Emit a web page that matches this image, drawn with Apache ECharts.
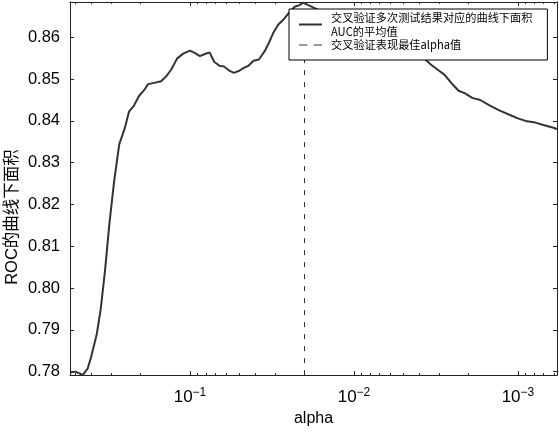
<!DOCTYPE html>
<html><head><meta charset="utf-8">
<script src="https://cdn.jsdelivr.net/npm/echarts@6/dist/echarts.min.js"></script>
<style>html,body{margin:0;padding:0;background:#fff}#c{width:559px;height:432px}</style>
</head><body><div id="c"></div>
<script>
const alphas = [0.539, 0.5, 0.45, 0.42, 0.4, 0.37, 0.35, 0.33, 0.31, 0.29, 0.27, 0.25, 0.235, 0.22, 0.205, 0.19, 0.18, 0.165, 0.15, 0.14, 0.13, 0.12, 0.11, 0.1, 0.093, 0.087, 0.081, 0.076, 0.071, 0.066, 0.062, 0.058, 0.054, 0.05, 0.047, 0.044, 0.041, 0.038, 0.035, 0.033, 0.031, 0.029, 0.027, 0.025, 0.023, 0.0215, 0.0204, 0.019, 0.017, 0.015, 0.013, 0.011, 0.0095, 0.008, 0.0068, 0.0058, 0.005, 0.0043, 0.0037, 0.0034, 0.0031, 0.0028, 0.0025, 0.0023, 0.0021, 0.0019, 0.0017, 0.0015, 0.0013, 0.0011, 0.001, 0.0009, 0.0008, 0.0007, 0.0006, 0.00058];
const meanAuc = [0.7798, 0.7800, 0.7792, 0.7808, 0.7836, 0.789, 0.795, 0.804, 0.8154, 0.8256, 0.8344, 0.8382, 0.8423, 0.8436, 0.8459, 0.8474, 0.8488, 0.8491, 0.8495, 0.8506, 0.8523, 0.8549, 0.8561, 0.8568, 0.8562, 0.8555, 0.8560, 0.8564, 0.8541, 0.8532, 0.8530, 0.8521, 0.8515, 0.8520, 0.8527, 0.8532, 0.8544, 0.8547, 0.8567, 0.8587, 0.8611, 0.8630, 0.8642, 0.8658, 0.8673, 0.8677, 0.8683, 0.8677, 0.8668, 0.8658, 0.8649, 0.8637, 0.8625, 0.8616, 0.8604, 0.8592, 0.8580, 0.8566, 0.8548, 0.8535, 0.8523, 0.8510, 0.8487, 0.8472, 0.8466, 0.8455, 0.8450, 0.8438, 0.8425, 0.8413, 0.8406, 0.8400, 0.8397, 0.8390, 0.8383, 0.8380];
const bestAlpha = 0.0204;
const xMajorTicks = [0.1, 0.01, 0.001];
const xTickLabels = ['10{s|−1}', '10{s|−2}', '10{s|−3}'];
const xMinorTicks = [0.5, 0.4, 0.3, 0.2, 0.09, 0.08, 0.07, 0.06, 0.05, 0.04, 0.03, 0.02, 0.009, 0.008, 0.007, 0.006, 0.005, 0.004, 0.003, 0.002, 0.0009, 0.0008, 0.0007, 0.0006];
const yTicks = [0.78, 0.79, 0.80, 0.81, 0.82, 0.83, 0.84, 0.85, 0.86];
const seriesNames = ['交叉验证多次测试结果对应的曲线下面积\nAUC的平均值', '交叉验证表现最佳alpha值'];
const xName = 'alpha';
const yName = 'ROC的曲线下面积';

const X_MIN = 0.000578, X_MAX = 0.539, Y_MIN = 0.77917, Y_MAX = 0.86845;
const FONT = '"Liberation Sans",Arial,sans-serif';
const AX = '#222';
const ICON_SOLID = 'path://M0,0h0.01v0.01h-0.01z M0,6h23v2h-23z M0,14h0.01v0.01h-0.01z';
const ICON_DASH = 'path://M0,0h0.01v0.01h-0.01z M0,6.5h8v1h-8z M14,6.5h8v1h-8z M0,14h0.01v0.01h-0.01z';

function xAxisDef(pos, ticks, len, showLine, showLabel) {
  return {
    type: 'log', logBase: 10, position: pos, inverse: true, min: X_MIN, max: X_MAX,
    gridIndex: 0,
    axisLine: {show: showLine, lineStyle: {color: AX, width: 1}},
    axisTick: {show: true, inside: true, length: len, customValues: ticks, lineStyle: {color: AX, width: 1}},
    axisLabel: showLabel ? {
      show: true, customValues: xMajorTicks, margin: 12,
      formatter: function (v) { const i = xMajorTicks.findIndex(t => Math.abs(t - v) / t < 1e-6); return i >= 0 ? xTickLabels[i] : ''; },
      color: '#000', fontFamily: FONT, fontSize: 17,
      rich: {s: {fontFamily: FONT, fontSize: 12, color: '#000', padding: [0, 0, 9, 0]}}
    } : {show: false},
    splitLine: {show: false}, minorTick: {show: false}, minorSplitLine: {show: false}
  };
}
const xAxes = [
  Object.assign(xAxisDef('bottom', xMajorTicks, 4, true, true), {name: xName, nameLocation: 'middle', nameGap: 27, nameTextStyle: {color: '#000', fontFamily: FONT, fontSize: 16}}),
  xAxisDef('bottom', xMinorTicks, 2, false, false),
  xAxisDef('top', xMajorTicks, 4, true, false),
  xAxisDef('top', xMinorTicks, 2, false, false)
];
function yAxisDef(pos, showLabel) {
  return {
    type: 'value', position: pos, min: Y_MIN, max: Y_MAX,
    axisLine: {show: true, lineStyle: {color: AX, width: 1}},
    axisTick: {show: true, inside: true, length: 4, customValues: yTicks, lineStyle: {color: AX}},
    axisLabel: showLabel ? {show: true, customValues: yTicks, margin: 10, formatter: v => v.toFixed(2), color: '#000', fontFamily: FONT, fontSize: 16.5} : {show: false},
    splitLine: {show: false}
  };
}

const chart = echarts.init(document.getElementById('c'), null, {renderer: 'canvas'});
chart.setOption({
  backgroundColor: '#fff',
  animation: false,
  grid: {left: 70, right: 2, top: 2, bottom: 54.5, containLabel: false},
  xAxis: xAxes,
  yAxis: [yAxisDef('left', true), yAxisDef('right', false)],
  legend: {
    orient: 'vertical', left: 289, top: 9, z: 10,
    padding: [2, 15, 8, 10], itemGap: 0, itemWidth: 23, itemHeight: 14,
    symbolKeepAspect: false,
    backgroundColor: '#fff', borderColor: '#000', borderWidth: 1,
    textStyle: {fontFamily: '"Noto Sans CJK SC",sans-serif', fontSize: 11.2, color: '#000', lineHeight: 13.5, padding: [0, 0, 0, 4]},
    data: [
      {name: seriesNames[0], icon: ICON_SOLID, itemStyle: {color: '#333', borderWidth: 0, opacity: 1}},
      {name: seriesNames[1], icon: ICON_DASH, itemStyle: {color: '#333', borderWidth: 0, opacity: 1}}
    ]
  },
  graphic: [{
    type: 'text', rotation: Math.PI / 2,
    x: 12, y: 217,
    style: {text: yName, fill: '#000', font: '16.5px "Liberation Sans","Noto Sans CJK SC",sans-serif', align: 'center', verticalAlign: 'middle'}
  }],
  series: [
    {
      name: seriesNames[0], type: 'line', xAxisIndex: 0, yAxisIndex: 0,
      data: alphas.map((a, i) => [a, meanAuc[i]]),
      showSymbol: false, symbol: 'none', smooth: false,
      lineStyle: {color: '#333', width: 2}, itemStyle: {color: '#333'}, z: 3
    },
    {
      name: seriesNames[1], type: 'line', xAxisIndex: 0, yAxisIndex: 0,
      data: [], symbol: 'none',
      lineStyle: {color: '#333', width: 1, type: [8, 6]}, itemStyle: {color: '#333'},
      markLine: {silent: true, z: 2, symbol: 'none', label: {show: false},
        lineStyle: {color: '#333', width: 1, type: [5, 7]},
        data: [{xAxis: bestAlpha}]}
    }
  ]
});
</script></body></html>
